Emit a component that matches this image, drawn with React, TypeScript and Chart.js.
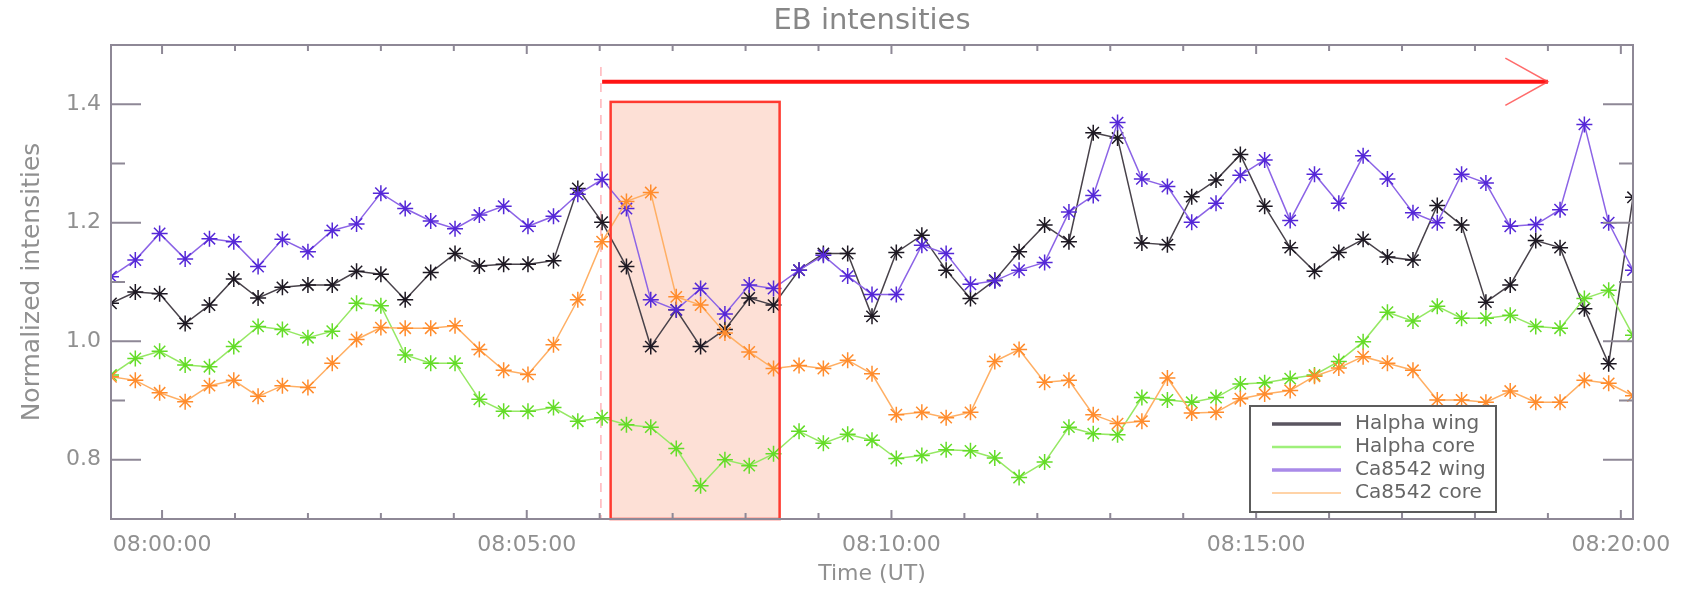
import React, { useEffect, useRef } from 'react';
import { Chart, registerables } from 'chart.js';

Chart.register(...registerables);

// Time of each sample, seconds relative to 08:00:00 UT
const TIMES_S = [
  -42, -22, -2, 19, 39, 59, 79, 99, 120, 140,
  160, 180, 200, 221, 241, 261, 281, 301, 322, 342,
  362, 382, 402, 423, 443, 463, 483, 503, 524, 544,
  564, 584, 604, 625, 645, 665, 685, 705, 726, 746,
  766, 786, 806, 827, 847, 867, 887, 907, 928, 948,
  968, 988, 1008, 1029, 1049, 1069, 1089, 1109, 1130, 1150,
  1170, 1190, 1210,
];

const HALPHA_WING = [
  1.064, 1.083, 1.080, 1.030, 1.061, 1.105, 1.073, 1.091, 1.095, 1.095,
  1.118, 1.113, 1.070, 1.116, 1.148, 1.127, 1.130, 1.130, 1.136, 1.258,
  1.201, 1.126, 0.991, 1.053, 0.991, 1.020, 1.073, 1.061, 1.120, 1.148,
  1.148, 1.042, 1.150, 1.179, 1.120, 1.072, 1.103, 1.151, 1.196, 1.168,
  1.352, 1.343, 1.166, 1.163, 1.244, 1.272, 1.315, 1.228, 1.158, 1.118,
  1.150, 1.172, 1.142, 1.137, 1.229, 1.196, 1.066, 1.095, 1.170, 1.158,
  1.055, 0.962, 1.243,
];

const HALPHA_CORE = [
  0.943, 0.971, 0.983, 0.960, 0.957, 0.991, 1.025, 1.020, 1.006, 1.017,
  1.064, 1.060, 0.977, 0.963, 0.963, 0.902, 0.882, 0.882, 0.888, 0.865,
  0.871, 0.859, 0.855, 0.819, 0.756, 0.800, 0.790, 0.810, 0.848, 0.828,
  0.843, 0.833, 0.802, 0.807, 0.817, 0.815, 0.803, 0.770, 0.796, 0.855,
  0.844, 0.842, 0.905, 0.901, 0.897, 0.905, 0.928, 0.930, 0.937, 0.943,
  0.966, 0.999, 1.049, 1.034, 1.059, 1.039, 1.039, 1.044, 1.025, 1.022,
  1.072, 1.086, 1.010,
];

const CA8542_WING = [
  1.109, 1.137, 1.182, 1.139, 1.173, 1.168, 1.126, 1.172, 1.151, 1.187,
  1.198, 1.250, 1.224, 1.203, 1.190, 1.213, 1.228, 1.194, 1.211, 1.248,
  1.273, 1.224, 1.070, 1.053, 1.089, 1.046, 1.095, 1.089, 1.120, 1.145,
  1.110, 1.079, 1.079, 1.162, 1.148, 1.096, 1.102, 1.120, 1.133, 1.218,
  1.246, 1.369, 1.274, 1.261, 1.201, 1.233, 1.280, 1.306, 1.204, 1.282,
  1.233, 1.313, 1.274, 1.217, 1.200, 1.282, 1.267, 1.194, 1.197, 1.222,
  1.366, 1.200, 1.120,
];

const CA8542_CORE = [
  0.940, 0.934, 0.913, 0.898, 0.925, 0.934, 0.907, 0.925, 0.922, 0.963,
  1.003, 1.023, 1.022, 1.022, 1.026, 0.986, 0.951, 0.944, 0.994, 1.070,
  1.168, 1.236, 1.251, 1.075, 1.061, 1.014, 0.982, 0.954, 0.959, 0.954,
  0.968, 0.945, 0.876, 0.880, 0.871, 0.880, 0.966, 0.986, 0.931, 0.934,
  0.876, 0.861, 0.865, 0.938, 0.879, 0.880, 0.903, 0.911, 0.917, 0.941,
  0.955, 0.974, 0.963, 0.951, 0.901, 0.901, 0.897, 0.916, 0.897, 0.897,
  0.934, 0.929, 0.908,
];

const SERIES_NAMES = ['Halpha wing', 'Halpha core', 'Ca8542 wing', 'Ca8542 core'];

const X_LABEL_SECONDS = [0, 300, 600, 900, 1200];
const X_LABELS = ['08:00:00', '08:05:00', '08:10:00', '08:15:00', '08:20:00'];
const Y_LABEL_VALUES = [0.8, 1.0, 1.2, 1.4];
const Y_MIN = 0.7;
const Y_MAX = 1.5;

// Annotations (data units)
const BOX_T0 = 369;
const BOX_T1 = 508;
const BOX_TOP = 1.404;
const DASH_T = 361;
const DASH_TOP = 1.463;
const ARROW_T0 = 362;
const ARROW_T1 = 1140;
const ARROW_Y = 1.438;
const ARROW_HEAD_T = 1105;
const ARROW_HEAD_DY = 0.04;

const TITLE = 'EB intensities';

const LINE_COLORS = ['rgb(72,66,74)', 'rgb(150,232,100)', 'rgb(140,100,230)', 'rgb(255,175,100)'];
const POINT_COLORS = ['rgb(30,25,35)', 'rgb(100,220,40)', 'rgb(85,40,215)', 'rgb(255,140,45)'];
const LEGEND_COLORS = ['#5a5560', '#9ef07a', '#a98ae8', '#ffc48a'];
const LEGEND_WIDTHS = [3.5, 2.5, 3.5, 1.5];

const FONT = '"DejaVu Sans", sans-serif';
const TEXT_GRAY = '#909090';
const FRAME = '#8e8896';

const overlayPlugin = {
  id: 'overlay',
  beforeDatasetsDraw(chart: any) {
    const { ctx, scales } = chart;
    const x = scales.x;
    const y = scales.y;
    ctx.save();
    const x0 = x.getPixelForValue(BOX_T0);
    const x1 = x.getPixelForValue(BOX_T1);
    const yt = y.getPixelForValue(BOX_TOP);
    const yb = y.getPixelForValue(Y_MIN);
    ctx.fillStyle = '#fde0d6';
    ctx.fillRect(x0, yt, x1 - x0, yb - yt);

    const dx = x.getPixelForValue(DASH_T);
    ctx.strokeStyle = 'rgba(255,120,130,0.55)';
    ctx.lineWidth = 1.5;
    ctx.setLineDash([9, 7]);
    ctx.beginPath();
    ctx.moveTo(dx, y.getPixelForValue(DASH_TOP));
    ctx.lineTo(dx, yb);
    ctx.stroke();
    ctx.restore();
  },
  afterDatasetsDraw(chart: any) {
    const { ctx, scales, chartArea } = chart;
    const x = scales.x;
    const y = scales.y;
    const { left, right, top, bottom } = chartArea;
    ctx.save();

    // box border
    const x0 = x.getPixelForValue(BOX_T0);
    const x1 = x.getPixelForValue(BOX_T1);
    const yt = y.getPixelForValue(BOX_TOP);
    const yb = y.getPixelForValue(Y_MIN);
    ctx.strokeStyle = '#ff3a30';
    ctx.lineWidth = 2.5;
    ctx.strokeRect(x0, yt, x1 - x0, yb - yt);

    // arrow
    const ay = y.getPixelForValue(ARROW_Y);
    const ax0 = x.getPixelForValue(ARROW_T0);
    const ax1 = x.getPixelForValue(ARROW_T1);
    ctx.strokeStyle = '#ff1414';
    ctx.lineWidth = 4;
    ctx.beginPath();
    ctx.moveTo(ax0, ay);
    ctx.lineTo(ax1, ay);
    ctx.stroke();
    const hx = x.getPixelForValue(ARROW_HEAD_T);
    ctx.strokeStyle = 'rgba(255,70,70,0.8)';
    ctx.lineWidth = 1.5;
    ctx.beginPath();
    ctx.moveTo(hx, y.getPixelForValue(ARROW_Y + ARROW_HEAD_DY));
    ctx.lineTo(ax1, ay);
    ctx.lineTo(hx, y.getPixelForValue(ARROW_Y - ARROW_HEAD_DY));
    ctx.stroke();

    // frame
    ctx.strokeStyle = FRAME;
    ctx.lineWidth = 2;
    ctx.strokeRect(left, top, right - left, bottom - top);

    // y ticks, both sides, inward
    y.ticks.forEach((t: any) => {
      const py = y.getPixelForValue(t.value);
      const major = Y_LABEL_VALUES.some((v) => Math.abs(v - t.value) < 1e-6);
      const len = major ? 30 : 14;
      ctx.beginPath();
      ctx.moveTo(left, py);
      ctx.lineTo(left + len, py);
      ctx.moveTo(right, py);
      ctx.lineTo(right - len, py);
      ctx.stroke();
    });
    // x ticks, top and bottom, inward
    x.ticks.forEach((t: any) => {
      const px = x.getPixelForValue(t.value);
      const major = X_LABEL_SECONDS.some((v) => Math.abs(v - t.value) < 1e-6);
      const len = major ? 9 : 6;
      ctx.beginPath();
      ctx.moveTo(px, bottom);
      ctx.lineTo(px, bottom - len);
      ctx.moveTo(px, top);
      ctx.lineTo(px, top + len);
      ctx.stroke();
    });

    // title
    ctx.fillStyle = '#878787';
    ctx.font = '29px ' + FONT;
    ctx.textAlign = 'center';
    ctx.textBaseline = 'middle';
    ctx.fillText(TITLE, (left + right) / 2, 21);

    // legend
    const lx = 1250;
    const ly = 406;
    const lw = 246;
    const lh = 106;
    ctx.fillStyle = '#ffffff';
    ctx.fillRect(lx, ly, lw, lh);
    ctx.strokeStyle = '#5c5c5c';
    ctx.lineWidth = 2;
    ctx.strokeRect(lx, ly, lw, lh);
    ctx.font = '20px ' + FONT;
    ctx.textAlign = 'left';
    ctx.textBaseline = 'middle';
    SERIES_NAMES.forEach((name, i) => {
      const ry = ly + 18 + i * 23;
      ctx.strokeStyle = LEGEND_COLORS[i];
      ctx.lineWidth = LEGEND_WIDTHS[i];
      ctx.beginPath();
      ctx.moveTo(lx + 22, ry);
      ctx.lineTo(lx + 91, ry);
      ctx.stroke();
      ctx.fillStyle = '#666666';
      ctx.fillText(name, lx + 105, ry);
    });
    ctx.restore();
  },
};

function makeDataset(label: string, values: number[], i: number, order: number) {
  return {
    label,
    data: TIMES_S.map((t, k) => ({ x: t, y: values[k] })),
    borderColor: LINE_COLORS[i],
    borderWidth: 1.5,
    pointStyle: 'star',
    pointRadius: 8,
    pointBorderColor: POINT_COLORS[i],
    pointBackgroundColor: POINT_COLORS[i],
    pointBorderWidth: 1.5,
    tension: 0,
    fill: false,
    order,
  };
}

export default function App() {
  const canvasRef = useRef<HTMLCanvasElement | null>(null);

  useEffect(() => {
    const canvas = canvasRef.current;
    if (!canvas) return;
    const chart = new Chart(canvas, {
      type: 'line',
      data: {
        datasets: [
          makeDataset(SERIES_NAMES[0], HALPHA_WING, 0, 4),
          makeDataset(SERIES_NAMES[1], HALPHA_CORE, 1, 3),
          makeDataset(SERIES_NAMES[2], CA8542_WING, 2, 2),
          makeDataset(SERIES_NAMES[3], CA8542_CORE, 3, 1),
        ] as any,
      },
      options: {
        animation: false,
        responsive: false,
        devicePixelRatio: 1,
        layout: { padding: { left: 0, right: 65, top: 45, bottom: 0 } },
        plugins: {
          legend: { display: false },
          title: { display: false },
          tooltip: { enabled: false },
        },
        scales: {
          x: {
            type: 'linear',
            min: TIMES_S[0],
            max: TIMES_S[TIMES_S.length - 1],
            grid: { display: false, drawTicks: false },
            border: { display: false },
            afterFit: (scale: any) => {
              scale.height = 72;
            },
            ticks: {
              stepSize: 60,
              includeBounds: false,
              autoSkip: false,
              maxRotation: 0,
              minRotation: 0,
              padding: 13,
              color: TEXT_GRAY,
              font: { family: FONT, size: 22 },
              callback: (value: any) => {
                const idx = X_LABEL_SECONDS.findIndex((v) => Math.abs(v - Number(value)) < 1e-6);
                return idx >= 0 ? X_LABELS[idx] : '';
              },
            },
            title: {
              display: true,
              text: 'Time (UT)',
              color: TEXT_GRAY,
              font: { family: FONT, size: 22 },
              padding: { top: 0, bottom: 4 },
            },
          },
          y: {
            type: 'linear',
            min: Y_MIN,
            max: Y_MAX,
            grid: { display: false, drawTicks: false },
            border: { display: false },
            afterFit: (scale: any) => {
              scale.width = 111;
            },
            ticks: {
              stepSize: 0.1,
              autoSkip: false,
              padding: 10,
              color: TEXT_GRAY,
              font: { family: FONT, size: 22 },
              callback: (value: any) => {
                const v = Number(value);
                const hit = Y_LABEL_VALUES.find((l) => Math.abs(l - v) < 1e-6);
                return hit !== undefined ? hit.toFixed(1) : '';
              },
            },
            title: {
              display: true,
              text: 'Normalized intensities',
              color: TEXT_GRAY,
              font: { family: FONT, size: 25 },
              padding: { top: 17, bottom: 0 },
            },
          },
        },
      } as any,
      plugins: [overlayPlugin],
    });
    return () => chart.destroy();
  }, []);

  return (
    <div style={{ position: 'fixed', left: 0, top: 0, width: 1698, height: 591, background: '#ffffff' }}>
      <canvas ref={canvasRef} width={1698} height={591} style={{ display: 'block' }} />
    </div>
  );
}
